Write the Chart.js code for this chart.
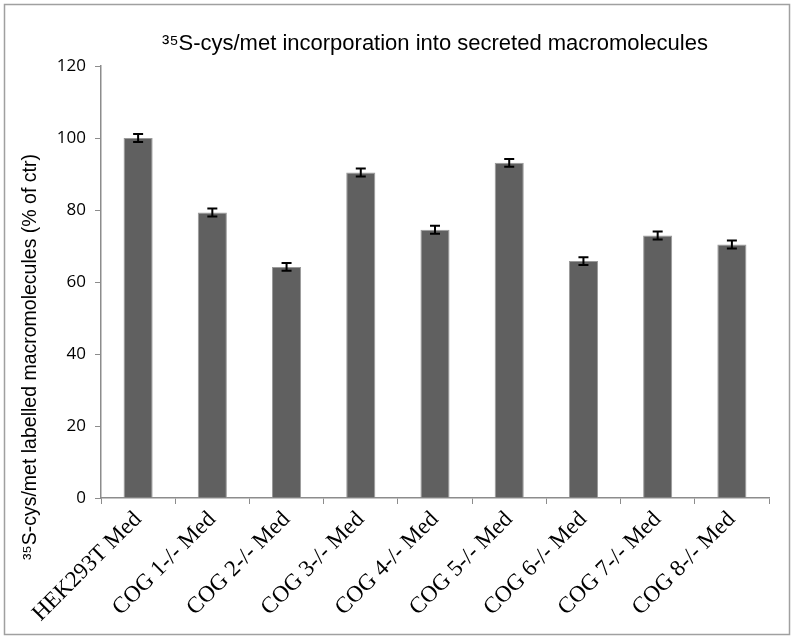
<!DOCTYPE html>
<html>
<head>
<meta charset="utf-8">
<script src="https://cdn.jsdelivr.net/npm/chart.js@4/dist/chart.umd.min.js"></script>
<style>
  html, body { margin: 0; padding: 0; background: #fff; }
  #wrap { width: 795px; height: 641px; position: relative; }
</style>
</head>
<body>
<div id="wrap"><canvas id="chart" width="795" height="641"></canvas></div>
<script>
// data
var categories = ['HEK293T Med', 'COG 1-/- Med', 'COG 2-/- Med', 'COG 3-/- Med', 'COG 4-/- Med',
                  'COG 5-/- Med', 'COG 6-/- Med', 'COG 7-/- Med', 'COG 8-/- Med'];
var values = [100, 79.3, 64.2, 90.4, 74.5, 93.1, 65.8, 72.9, 70.4];
var errors = [1.1, 1.1, 1.1, 1.1, 1.1, 1.1, 1.1, 1.1, 1.1];
var yTicks = [0, 20, 40, 60, 80, 100, 120];

var titleText = '\u00B3\u2075S-cys/met incorporation into secreted macromolecules';
var yTitleText = '\u00B3\u2075S-cys/met labelled macromolecules (% of ctr)';

// gray frame round the whole picture
var framePlugin = {
  id: 'frame',
  beforeDraw: function(chart) {
    var ctx = chart.ctx;
    ctx.save();
    ctx.fillStyle = '#fff';
    ctx.fillRect(0, 0, chart.width, chart.height);
    ctx.strokeStyle = '#a0a0a0';
    ctx.lineWidth = 1.5;
    ctx.strokeRect(4.5, 4.5, 785, 630);
    ctx.restore();
  }
};

// y title, placed like the excel original (lower than the plot centre)
var yTitlePlugin = {
  id: 'yTitle',
  afterDraw: function(chart) {
    var ctx = chart.ctx;
    ctx.save();
    ctx.translate(31, 357);
    ctx.rotate(-Math.PI / 2);
    ctx.font = '19.5px "Liberation Sans", Arial, sans-serif';
    ctx.fillStyle = '#000';
    ctx.textAlign = 'center';
    ctx.textBaseline = 'middle';
    ctx.fillText(yTitleText, 0, 0);
    ctx.restore();
  }
};

// error bars
var errorBarPlugin = {
  id: 'errorBars',
  afterDatasetsDraw: function(chart) {
    var ctx = chart.ctx;
    var meta = chart.getDatasetMeta(0);
    var y = chart.scales.y;
    ctx.save();
    ctx.strokeStyle = '#000';
    ctx.lineWidth = 2;
    meta.data.forEach(function(bar, i) {
      var x = bar.x;
      var hi = y.getPixelForValue(values[i] + errors[i]);
      var lo = y.getPixelForValue(values[i] - errors[i]);
      ctx.beginPath();
      ctx.moveTo(x, hi); ctx.lineTo(x, lo);
      ctx.moveTo(x - 5, hi); ctx.lineTo(x + 5, hi);
      ctx.moveTo(x - 5, lo); ctx.lineTo(x + 5, lo);
      ctx.stroke();
    });
    ctx.restore();
  }
};

var ctx = document.getElementById('chart').getContext('2d');
new Chart(ctx, {
  type: 'bar',
  data: {
    labels: categories,
    datasets: [{
      data: values,
      backgroundColor: '#606060',
      borderColor: '#9a9a9a',
      borderWidth: 1,
      barPercentage: 0.8,
      categoryPercentage: 0.49
    }]
  },
  options: {
    responsive: false,
    animation: false,
    events: [],
    layout: { padding: { left: 4, right: 26, top: 0, bottom: 0 } },
    plugins: {
      legend: { display: false },
      tooltip: { enabled: false },
      title: {
        display: true,
        fullSize: false,
        text: titleText,
        color: '#000',
        font: { family: '"Liberation Sans", Arial, sans-serif', size: 22, weight: 'normal', lineHeight: 1.2 },
        padding: { top: 31, bottom: 8.6 }
      }
    },
    scales: {
      x: {
        afterFit: function(scale) { scale.height = 143; },
        grid: {
          offset: true,
          drawOnChartArea: false,
          drawTicks: true,
          tickLength: 6,
          color: '#8c8c8c'
        },
        border: { display: true, color: '#8c8c8c', width: 1.5 },
        ticks: {
          minRotation: 45,
          maxRotation: 45,
          autoSkip: false,
          padding: 2,
          color: '#000',
          font: { family: '"Liberation Serif", "Times New Roman", serif', size: 23 }
        }
      },
      y: {
        min: 0,
        max: 120,
        afterFit: function(scale) { scale.width = 97; },
        afterBuildTicks: function(scale) {
          scale.ticks = yTicks.map(function(v) { return { value: v }; });
        },
        grid: {
          drawOnChartArea: false,
          drawTicks: true,
          tickLength: 6,
          color: '#8c8c8c'
        },
        border: { display: true, color: '#8c8c8c', width: 1.5 },
        ticks: {
          padding: 9,
          color: '#000',
          font: { family: '"Open Sans", Calibri, sans-serif', size: 17 }
        }
      }
    }
  },
  plugins: [framePlugin, yTitlePlugin, errorBarPlugin]
});
</script>
</body>
</html>
